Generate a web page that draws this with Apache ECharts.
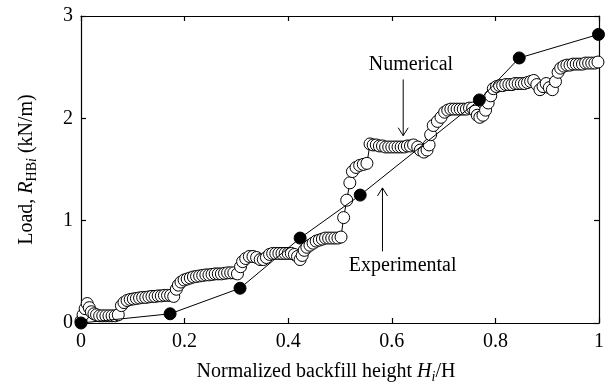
<!DOCTYPE html>
<html>
<head>
<meta charset="utf-8">
<script src="https://cdn.jsdelivr.net/npm/echarts@6/dist/echarts.min.js"></script>
<style>
  html, body { margin: 0; padding: 0; background: #fff; }
  #chart { width: 611px; height: 383px; }
</style>
</head>
<body>
<div id="chart"></div>
<script>
// Normalized backfill height H_i/H vs. load R_HBi (kN/m)
const expX = [0.000, 0.172, 0.307, 0.423, 0.539, 0.769, 0.846, 0.999];
const expY = [0.00, 0.09, 0.34, 0.83, 1.25, 2.18, 2.59, 2.82];

const numX = [
  0.000, 0.004, 0.008, 0.012, 0.016, 0.020, 0.025, 0.030,
  0.036, 0.042, 0.048, 0.054, 0.060, 0.066, 0.072,
  0.078, 0.083, 0.089, 0.095, 0.101, 0.107, 0.113, 0.119, 0.125, 0.131, 0.137, 0.143, 0.149, 0.155, 0.161, 0.167, 0.173, 0.179,
  0.184, 0.188, 0.193, 0.199, 0.205, 0.211, 0.217, 0.223, 0.229, 0.235, 0.241, 0.247, 0.253, 0.259, 0.265, 0.271, 0.277, 0.283, 0.289, 0.295, 0.302,
  0.308, 0.312, 0.318, 0.325, 0.332, 0.339, 0.346, 0.352, 0.358, 0.364, 0.370, 0.376, 0.382, 0.388, 0.394, 0.400, 0.406, 0.412, 0.418, 0.423,
  0.427, 0.431, 0.436, 0.442, 0.448, 0.454, 0.460, 0.466, 0.472, 0.478, 0.484, 0.490, 0.496, 0.502,
  0.507, 0.513, 0.519, 0.524, 0.531, 0.538, 0.545, 0.552,
  0.558, 0.564, 0.570, 0.576, 0.582, 0.588, 0.594, 0.600, 0.606, 0.612, 0.618, 0.624, 0.630, 0.636, 0.642,
  0.650, 0.655, 0.662, 0.668, 0.672, 0.675, 0.680, 0.688, 0.695, 0.702, 0.708, 0.714, 0.720, 0.726, 0.732, 0.738, 0.744, 0.750, 0.756,
  0.761, 0.765, 0.770, 0.776, 0.781, 0.786, 0.791, 0.796, 0.802, 0.808, 0.814, 0.820, 0.826, 0.832, 0.838, 0.844, 0.850, 0.856, 0.862, 0.868, 0.874,
  0.880, 0.886, 0.892, 0.898, 0.904, 0.910, 0.916, 0.921, 0.926, 0.932, 0.938, 0.944, 0.950, 0.956, 0.962, 0.968, 0.974, 0.980, 0.986, 0.992, 0.998
];
const numY = [
  0.02, 0.08, 0.14, 0.19, 0.15, 0.11, 0.09, 0.08,
  0.07, 0.07, 0.07, 0.07, 0.07, 0.07, 0.08,
  0.17, 0.20, 0.22, 0.23, 0.235, 0.24, 0.245, 0.25, 0.25, 0.255, 0.26, 0.26, 0.265, 0.265, 0.27, 0.27, 0.27, 0.26,
  0.33, 0.37, 0.40, 0.42, 0.43, 0.44, 0.45, 0.455, 0.46, 0.465, 0.47, 0.47, 0.475, 0.48, 0.48, 0.48, 0.485, 0.49, 0.49, 0.49, 0.48,
  0.55, 0.60, 0.63, 0.65, 0.65, 0.64, 0.62, 0.62, 0.64, 0.67, 0.68, 0.68, 0.68, 0.68, 0.68, 0.68, 0.68, 0.67, 0.65, 0.62,
  0.66, 0.71, 0.74, 0.76, 0.78, 0.80, 0.81, 0.82, 0.83, 0.83, 0.83, 0.83, 0.83, 0.84,
  1.03, 1.20, 1.37, 1.48, 1.52, 1.54, 1.55, 1.56,
  1.75, 1.74, 1.74, 1.73, 1.73, 1.72, 1.72, 1.72, 1.72, 1.72, 1.72, 1.72, 1.73, 1.73, 1.74,
  1.72, 1.69, 1.67, 1.69, 1.74, 1.84, 1.93, 1.97, 2.01, 2.06, 2.08, 2.09, 2.09, 2.09, 2.09, 2.09, 2.09, 2.10, 2.10,
  2.07, 2.03, 2.01, 2.03, 2.08, 2.15, 2.22, 2.29, 2.31, 2.32, 2.32, 2.33, 2.33, 2.33, 2.34, 2.34, 2.34, 2.34, 2.35, 2.36, 2.37,
  2.33, 2.28, 2.31, 2.34, 2.30, 2.28, 2.36, 2.45, 2.49, 2.51, 2.52, 2.52, 2.53, 2.53, 2.53, 2.53, 2.54, 2.54, 2.54, 2.54, 2.55
];

const xTicks = [0, 0.2, 0.4, 0.6, 0.8, 1];
const yTicks = [0, 1, 2, 3];

const FONT = '"Liberation Serif", "DejaVu Serif", serif';
const FS = 20;
const pairs = (xs, ys) => xs.map((x, i) => [x, ys[i]]);

const chart = echarts.init(document.getElementById('chart'), null, { renderer: 'canvas' });

const axisLine = { show: true, onZero: false, lineStyle: { color: '#000', width: 1.2 } };
const tick = { show: true, inside: true, length: 5, lineStyle: { color: '#000', width: 1.2 } };
const tickLabel = { color: '#000', fontFamily: FONT, fontSize: FS };

chart.setOption({
  animation: false,
  backgroundColor: '#fff',
  grid: { left: 81, right: 12, top: 16, bottom: 60, containLabel: false, outerBoundsMode: 'none' },
  xAxis: [
    {
      type: 'value', min: 0, max: 1, interval: 0.2,
      axisLine, axisTick: tick, splitLine: { show: false },
      axisLabel: Object.assign({ margin: 9, formatter: v => {
        const r = +v.toFixed(1);
        return xTicks.includes(r) ? String(r) : '';
      } }, tickLabel),
      name: '{n|Normalized backfill height }{it|H}{sub|i}{n|/H}',
      nameLocation: 'middle', nameGap: 37,
      nameTextStyle: {
        verticalAlign: 'top',
        padding: [0, 28, 0, 0],
        rich: {
          n: { fontFamily: FONT, fontSize: FS, color: '#000' },
          it: { fontFamily: FONT, fontSize: FS, fontStyle: 'italic', color: '#000' },
          sub: { fontFamily: FONT, fontSize: 14, fontStyle: 'italic', color: '#000', padding: [10, 0, 0, 0] }
        }
      }
    },
    {
      type: 'value', position: 'top', min: 0, max: 1, interval: 0.2,
      axisLine, axisTick: tick, axisLabel: { show: false }, splitLine: { show: false }
    }
  ],
  yAxis: [
    {
      type: 'value', min: 0, max: 3, interval: 1,
      axisLine, axisTick: tick, splitLine: { show: false },
      axisLabel: Object.assign({ margin: 8, formatter: v => yTicks.includes(v) ? String(v) : '' }, tickLabel),
      name: '{n|Load, }{it|R}{sub|HB}{subi|i}{n| (kN/m)}',
      nameLocation: 'middle', nameGap: 42, nameRotate: 90,
      nameTextStyle: {
        rich: {
          n: { fontFamily: FONT, fontSize: FS, color: '#000' },
          it: { fontFamily: FONT, fontSize: FS, fontStyle: 'italic', color: '#000' },
          sub: { fontFamily: FONT, fontSize: 14, color: '#000', padding: [10, 0, 0, 0] },
          subi: { fontFamily: FONT, fontSize: 14, fontStyle: 'italic', color: '#000', padding: [10, 0, 0, 0] }
        }
      }
    },
    {
      type: 'value', position: 'right', min: 0, max: 3, interval: 1,
      axisLine, axisTick: tick, axisLabel: { show: false }, splitLine: { show: false }
    }
  ],
  series: [
    {
      name: 'Numerical', type: 'line', data: pairs(numX, numY),
      symbol: 'circle', symbolSize: 12, showAllSymbol: true,
      lineStyle: { color: '#000', width: 1 },
      itemStyle: { color: '#fff', borderColor: '#000', borderWidth: 1 },
      z: 2
    },
    {
      name: 'Experimental', type: 'line', data: pairs(expX, expY),
      symbol: 'circle', symbolSize: 12, showAllSymbol: true,
      lineStyle: { color: '#000', width: 1 },
      itemStyle: { color: '#000', borderColor: '#000', borderWidth: 1 },
      z: 3
    }
  ]
});

// Text callouts with arrows, placed in data coordinates
const P = (x, y) => chart.convertToPixel({ xAxisIndex: 0, yAxisIndex: 0 }, [x, y]);
function arrow(from, to) {
  const a = P(from[0], from[1]), b = P(to[0], to[1]);
  const dir = b[1] > a[1] ? 1 : -1;
  return [
    { type: 'line', shape: { x1: a[0], y1: a[1], x2: b[0], y2: b[1] }, style: { stroke: '#000', lineWidth: 1 }, z: 10 },
    { type: 'polyline', shape: { points: [[b[0] - 5, b[1] - dir * 8], [b[0], b[1]], [b[0] + 5, b[1] - dir * 8]] }, style: { stroke: '#000', lineWidth: 1, fill: null }, z: 10 }
  ];
}
function label(txt, x, y) {
  const p = P(x, y);
  return { type: 'text', x: p[0], y: p[1], style: { text: txt, fontFamily: FONT, fontSize: FS, fill: '#000', align: 'center', verticalAlign: 'middle' }, z: 10 };
}
chart.setOption({
  graphic: [
    label('Numerical', 0.637, 2.52),
    ...arrow([0.622, 2.38], [0.622, 1.83]),
    label('Experimental', 0.621, 0.56),
    ...arrow([0.582, 0.70], [0.582, 1.32])
  ]
});
</script>
</body>
</html>
